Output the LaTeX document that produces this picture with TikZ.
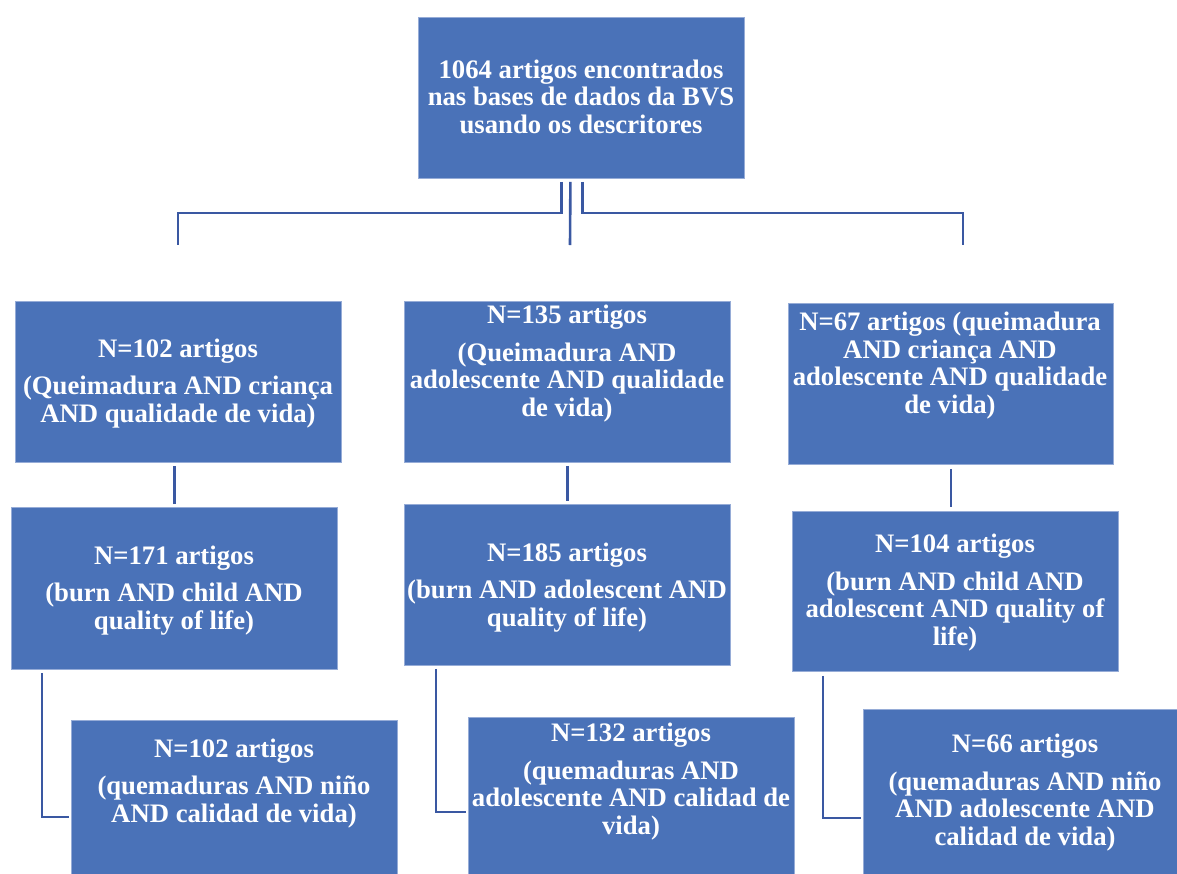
\documentclass[tikz,border=0pt]{standalone}
\usepackage{fontspec}
\setmainfont{Liberation Serif}
\definecolor{boxblue}{RGB}{74,114,184}
\definecolor{boxedge}{RGB}{150,172,215}
\definecolor{linkblue}{RGB}{58,88,162}
\tikzset{
  box/.style={rectangle, fill=boxblue, draw=boxedge, line width=0.8pt, anchor=north west, inner sep=0pt},
  txt/.style={text=white, align=center, inner sep=0pt, anchor=base, font=\fontsize{26.7}{27.5}\selectfont\bfseries},
  link/.style={draw=linkblue, line width=2.6pt},
}
\begin{document}
\begin{tikzpicture}[x=1pt,y=-1pt]
\useasboundingbox (0,0) rectangle (1177,873);
\begin{scope}
\clip (0,0) rectangle (1177,873);
% boxes
\node[box, minimum width=326pt, minimum height=161pt] (top) at (418,17) {};
\node[box, minimum width=326pt, minimum height=161pt] (L1) at (15,301) {};
\node[box, minimum width=326pt, minimum height=161pt] (M1) at (404,301) {};
\node[box, minimum width=325pt, minimum height=161pt] (R1) at (788,303) {};
\node[box, minimum width=326pt, minimum height=162pt] (L2) at (11,507) {};
\node[box, minimum width=326pt, minimum height=161pt] (M2) at (404,504) {};
\node[box, minimum width=326pt, minimum height=160pt] (R2) at (792,511) {};
\node[box, minimum width=326pt, minimum height=175pt] (L3) at (71,720) {};
\node[box, minimum width=326pt, minimum height=175pt] (M3) at (468,717) {};
\node[box, minimum width=326pt, minimum height=185pt] (R3) at (863,709) {};
\end{scope}
% texts (anchor base = baseline of last line)
\node[txt] (tTop) at (581,133) {1064 artigos encontrados\\nas bases de dados da BVS\\usando os descritores};
\node[txt] (tL1) at (178,422) {N=102 artigos\\[10pt](Queimadura AND criança\\AND qualidade de vida)};
\node[txt] (tM1) at (567,416) {N=135 artigos\\[10pt](Queimadura AND\\adolescente AND qualidade\\de vida)};
\node[txt] (tR1) at (950,413) {N=67 artigos (queimadura\\AND criança AND\\adolescente AND qualidade\\de vida)};
\node[txt] (tL2) at (174,629) {N=171 artigos\\[10pt](burn AND child AND\\quality of life)};
\node[txt] (tM2) at (567,626) {N=185 artigos\\[10pt](burn AND adolescent AND\\quality of life)};
\node[txt] (tR2) at (955,645) {N=104 artigos\\[10pt](burn AND child AND\\adolescent AND quality of\\life)};
\node[txt] (tL3) at (234,822) {N=102 artigos\\[10pt](quemaduras AND niño\\AND calidad de vida)};
\node[txt] (tM3) at (631,834) {N=132 artigos\\[10pt](quemaduras AND\\adolescente AND calidad de\\vida)};
\node[txt] (tR3) at (1025,845) {N=66 artigos\\[10pt](quemaduras AND niño\\AND adolescente AND\\calidad de vida)};
% top connectors
\coordinate (cL) at (178,245);
\coordinate (cM) at (570,245);
\coordinate (cR) at (963,245);
\draw[link] ([xshift=-20pt,yshift=-3pt]top.south) -- ([xshift=-20pt,yshift=-34pt]top.south) -| (cL);
\draw[link] ([xshift=-11pt,yshift=-3pt]top.south) -- (cM);
\draw[link] ([xshift=1pt,yshift=-3pt]top.south) -- ([xshift=1pt,yshift=-34pt]top.south) -| (cR);
% vertical connectors
\draw[link] ([yshift=3pt]L2.north) -- ([yshift=-3pt]L2.north |- L1.south);
\draw[link] ([yshift=-3pt]M1.south) -- ([yshift=3pt]M2.north);
\draw[link] ([yshift=-4pt]R1.south) -- ([yshift=4pt]R1.south |- R2.north);
% elbow connectors
\draw[link] ([xshift=31pt,yshift=-3pt]L2.south west) |- ([xshift=-2pt,yshift=-97pt]L3.north west);
\draw[link] ([xshift=32pt,yshift=-3pt]M2.south west) |- ([xshift=-2pt,yshift=-95pt]M3.north west);
\draw[link] ([xshift=31pt,yshift=-4pt]R2.south west) |- ([xshift=-2pt,yshift=-109pt]R3.north west);
\end{tikzpicture}
\end{document}
